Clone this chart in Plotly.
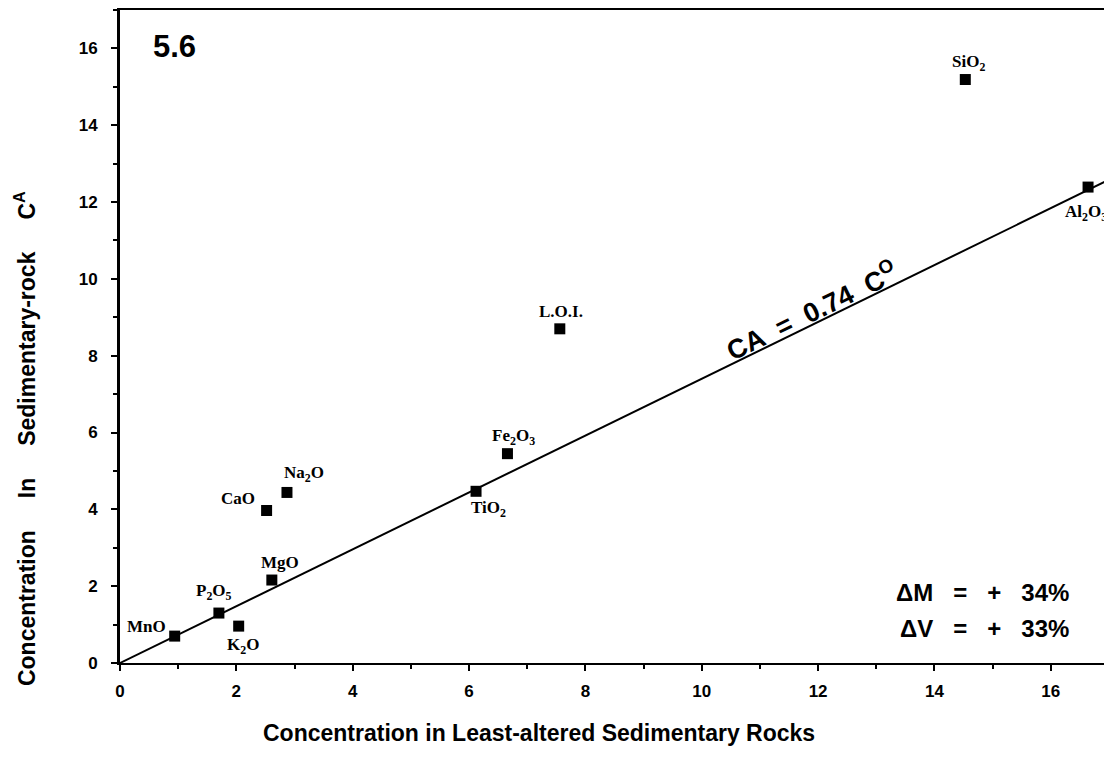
import plotly.graph_objects as go

# ---- data ----
oxides = ["MnO", "P<sub>2</sub>O<sub>5</sub>", "K<sub>2</sub>O", "MgO", "CaO",
          "Na<sub>2</sub>O", "TiO<sub>2</sub>", "Fe<sub>2</sub>O<sub>3</sub>",
          "L.O.I.", "SiO<sub>2</sub>", "Al<sub>2</sub>O<sub>3</sub>"]
c_least_altered = [0.94, 1.70, 2.04, 2.61, 2.52, 2.87, 6.12, 6.66, 7.56, 14.53, 16.64]
c_sed_rock = [0.70, 1.30, 0.96, 2.16, 3.97, 4.44, 4.47, 5.45, 8.70, 15.19, 12.39]

isocon_slope = 0.74
isocon_x = [0, 17]

x_ticks = [0, 2, 4, 6, 8, 10, 12, 14, 16]
y_ticks = [0, 2, 4, 6, 8, 10, 12, 14, 16]

# label placement (pixel offsets from each marker)
label_dx = [-7, -5, 4, 8, -10, 17, 12, 6, 1, 3, -2]
label_dy = [10, 21, -20, 18, 12, 18, -18, 17, 17, 17, -26]
label_anchor = ["right", "center", "center", "center", "right", "center",
                "center", "center", "center", "center", "center"]

BLACK = "#000000"
SANS = "Liberation Sans, Arial, sans-serif"
SERIF = "Liberation Serif, Times New Roman, serif"
NB = "\u00a0"

fig = go.Figure()

fig.add_trace(go.Scatter(
    x=isocon_x, y=[isocon_slope * v for v in isocon_x],
    mode="lines", line=dict(color=BLACK, width=2),
    hoverinfo="skip", showlegend=False))

fig.add_trace(go.Scatter(
    x=c_least_altered, y=c_sed_rock, mode="markers",
    marker=dict(symbol="square", size=11, color=BLACK),
    showlegend=False))

annotations = []
for name, x, y, dx, dy, anc in zip(oxides, c_least_altered, c_sed_rock,
                                   label_dx, label_dy, label_anchor):
    annotations.append(dict(
        x=x, y=y, xref="x", yref="y", text=name, showarrow=False,
        xshift=dx, yshift=dy, xanchor=anc, yanchor="middle",
        font=dict(family=SERIF, size=17, color=BLACK, weight="bold")))

gap3 = NB * 3
annotations += [
    dict(x=0.94, y=16.04, xref="x", yref="y", text="5.6", showarrow=False,
         font=dict(family=SANS, size=31, color=BLACK, weight="bold")),
    dict(x=11.88, y=9.20, xref="x", yref="y",
         text="CA" + NB * 2 + "=" + NB * 2 + "0.74" + NB * 2 + "C<sup>O</sup>",
         showarrow=False, textangle=-26,
         font=dict(family=SANS, size=27, color=BLACK, weight="bold")),
    dict(x=16.35, y=1.84, xref="x", yref="y", xanchor="right",
         text="\u0394M" + gap3 + "=" + gap3 + "+" + gap3 + "34%", showarrow=False,
         font=dict(family=SANS, size=24, color=BLACK, weight="bold")),
    dict(x=16.35, y=0.91, xref="x", yref="y", xanchor="right",
         text="\u0394V" + gap3 + "=" + gap3 + "+" + gap3 + "33%", showarrow=False,
         font=dict(family=SANS, size=24, color=BLACK, weight="bold")),
    dict(x=-0.096, y=0.343, xref="paper", yref="paper", textangle=-90,
         xanchor="center", yanchor="middle",
         text="Concentration" + NB * 5 + "In" + NB * 5 + "Sedimentary-rock"
              + NB * 5 + "C<sup>A</sup>",
         showarrow=False,
         font=dict(family=SANS, size=23, color=BLACK, weight="bold")),
    dict(x=0.424, y=-0.107, xref="paper", yref="paper",
         xanchor="center", yanchor="middle",
         text="Concentration in Least-altered Sedimentary Rocks",
         showarrow=False,
         font=dict(family=SANS, size=23, color=BLACK, weight="bold")),
]

axis_common = dict(
    showgrid=False, zeroline=False, showline=True, linecolor=BLACK,
    mirror=True, ticks="outside", ticklen=6, tickwidth=2, tickcolor=BLACK,
    tickfont=dict(family=SANS, size=17, color=BLACK, weight="bold"),
    minor=dict(dtick=1, ticks="outside", ticklen=4, tickwidth=2, tickcolor=BLACK),
)

fig.update_xaxes(range=[0, 17], tickvals=x_ticks, linewidth=2,
                 ticklabelstandoff=6, **axis_common)
fig.update_yaxes(range=[0, 17], tickvals=y_ticks, linewidth=3,
                 ticklabelstandoff=10, **axis_common)

fig.update_layout(
    width=1104, height=740,
    margin=dict(l=112, r=2, t=0, b=85),
    plot_bgcolor="white", paper_bgcolor="white",
    annotations=annotations, showlegend=False,
)

fig.write_html("out.html")
